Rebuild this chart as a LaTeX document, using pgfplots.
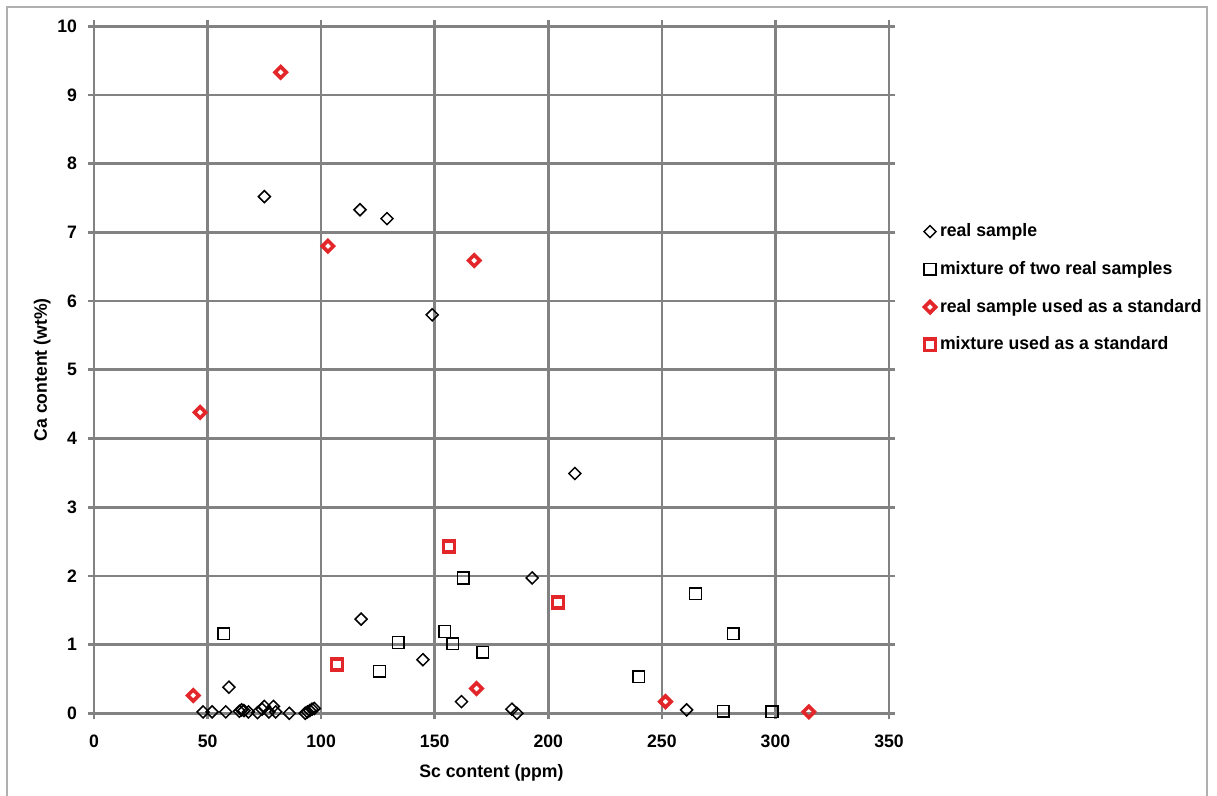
\documentclass[border=0pt]{standalone}
\usepackage{fontspec}
\setmainfont{Liberation Sans}[UprightFont=* Bold, BoldFont=* Bold, FakeStretch=0.98]
\usepackage{pgfplots}
\pgfplotsset{compat=1.18}
\definecolor{gridgray}{RGB}{130,130,130}
\definecolor{mred}{RGB}{226,38,42}
\definecolor{framegray}{RGB}{175,175,175}
\begin{document}
\begin{tikzpicture}
\useasboundingbox (-47pt,-41.35pt) rectangle (561.5pt,356.65pt);
\draw[framegray, line width=1pt] (-43.5pt,-42pt) -- (-43.5pt,353.15pt) -- (556.5pt,353.15pt) -- (556.5pt,-42pt);
\begin{axis}[
 scale only axis, width=397.5pt, height=343.5pt,
 xmin=0, xmax=350, ymin=0, ymax=10,
 xtick={0,50,...,350}, ytick={0,1,...,10},
 grid=major, grid style={gridgray, line width=1.35pt},
 axis line style={gridgray, line width=1.35pt},
 tick style={gridgray, line width=1.35pt},
 tick align=outside, major tick length=3pt,
 clip=false,
 font=\fontsize{9}{11}\selectfont,
 ticklabel style={font=\fontsize{9}{11}\selectfont},
 yticklabel style={xshift=-2pt},
 xticklabel style={yshift=-4.5pt},
 xlabel style={yshift=-1.5pt},
 ylabel style={yshift=-3.5pt},
 /pgf/number format/assume math mode=true,
 xlabel={Sc content (ppm)}, ylabel={Ca content (wt\%)},
 legend cell align=left,
 legend style={at={(rel axis cs:1.036,0.725)}, anchor=north west, draw=none, fill=none,
   font=\fontsize{9}{11}\selectfont, row sep=6.85pt},
]
\addplot[only marks, mark=diamond, mark size=3.0pt, mark options={black, line width=0.75pt, xscale=1.3333}] coordinates {
(48,0.02) (52,0.02) (58,0.02) (64,0.03) (65,0.05) (66,0.04) (68,0.02) (72,0.01) (74,0.06) (75,0.1) (77,0.02) (79,0.1) (80,0.02) (86,0.0) (93,0.0) (94,0.02) (95,0.04) (96,0.06) (97,0.07)
(59.4,0.38) (75,7.52) (117.1,7.33) (129,7.2) (148.9,5.8) (211.7,3.49) (117.6,1.37) (144.8,0.78) (192.9,1.97) (161.8,0.17) (184,0.06) (186.2,0.0) (260.9,0.05)
};
\addlegendentry{real sample}
\addplot[only marks, mark=square, mark size=2.9pt, mark options={black, line width=0.75pt}] coordinates {
(57.2,1.16) (125.7,0.61) (133.9,1.03) (154.5,1.19) (157.9,1.01) (162.6,1.97) (171.2,0.89) (239.9,0.53) (264.8,1.74) (281.4,1.16) (277.0,0.03) (298.5,0.02)
};
\addlegendentry{mixture of two real samples}
\addplot[only marks, mark=diamond, mark size=2.8pt, mark options={mred, line width=1.8pt, xscale=1.3333}] coordinates {
(43.7,0.26) (46.7,4.38) (82.2,9.33) (103,6.8) (167.4,6.59) (168.4,0.36) (251.6,0.17) (314.7,0.02)
};
\addlegendentry{real sample used as a standard}
\addplot[only marks, mark=square, mark size=2.8pt, mark options={mred, line width=1.8pt}] coordinates {
(107,0.71) (156.3,2.43) (204.3,1.61)
};
\addlegendentry{mixture used as a standard}
\end{axis}
\end{tikzpicture}
\end{document}
